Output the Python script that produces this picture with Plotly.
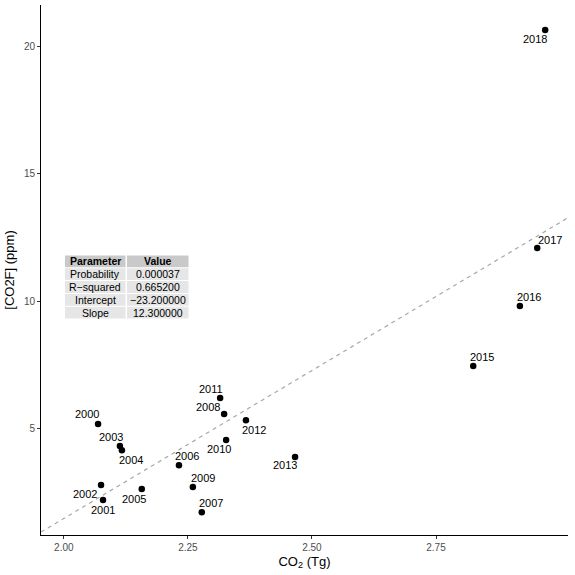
import plotly.graph_objects as go

# datos
years = ['2000', '2001', '2002', '2003', '2004', '2005', '2006', '2007', '2008',
         '2009', '2010', '2011', '2012', '2013', '2015', '2016', '2017', '2018']
co2 = [2.069, 2.079, 2.075, 2.113, 2.117, 2.157, 2.232, 2.278, 2.323,
       2.260, 2.327, 2.315, 2.367, 2.466, 2.825, 2.919, 2.954, 2.970]
co2f = [5.16, 2.17, 2.76, 4.29, 4.13, 2.60, 3.54, 1.69, 5.55,
        2.68, 4.53, 6.18, 5.31, 3.86, 7.44, 9.80, 12.09, 20.67]

params = ['Probability', 'R\u2212squared', 'Intercept', 'Slope']
values = ['0.000037', '0.665200', '\u221223.200000', '12.300000']
# recta discontinua tal como se ve en la figura
line_intercept = -21.86
line_slope = 11.65

# desplazamiento de cada etiqueta (px) respecto al punto
shifts = {'2000': (-11, 10), '2001': (0, -10), '2002': (-16, -9), '2003': (-9, 9),
          '2004': (9, -10), '2005': (-8, -10), '2006': (8, 9), '2007': (9, 9),
          '2008': (-16, 7), '2009': (10, 9), '2010': (-7, -9), '2011': (-9, 9),
          '2012': (8, -10), '2013': (-10, -8), '2015': (9, 9), '2016': (9, 9),
          '2017': (13, 8), '2018': (-10, -9)}

L, R, T, B = 41, 7, 5, 40
W = H = 575
pw, ph = W - L - R, H - T - B

def px(p):
    return (p - L) / pw

def py(p):
    return (H - B - p) / ph

xr = [1.954, 3.016]
fig = go.Figure()
fig.add_trace(go.Scatter(x=xr, y=[line_intercept + line_slope * v for v in xr], mode='lines',
                         line=dict(color='#a8a8a8', width=1.2, dash='4px,4px'),
                         hoverinfo='skip', showlegend=False))
fig.add_trace(go.Scatter(x=co2, y=co2f, mode='markers', marker=dict(color='black', size=6.5),
                         showlegend=False))
for yr, a, b in zip(years, co2, co2f):
    dx, dy = shifts[yr]
    fig.add_annotation(x=a, y=b, text=yr, showarrow=False, xshift=dx, yshift=dy,
                       font=dict(size=11, color='black'))

# tabla dibujada con rectangulos y textos
col_x = [(65, 125.5), (127, 188.5)]
top, rh = 255, 12.8
rows = [['<b>Parameter</b>', '<b>Value</b>']] + [[p, v] for p, v in zip(params, values)]
for i, row in enumerate(rows):
    y0 = top + i * rh
    fill = '#c9c9c9' if i == 0 else '#e6e6e6'
    for (a, b), txt in zip(col_x, row):
        fig.add_shape(type='rect', xref='paper', yref='paper', x0=px(a), x1=px(b),
                      y0=py(y0 + 0.5), y1=py(y0 + rh - 0.5), fillcolor=fill, line_width=0, layer='below')
        fig.add_annotation(xref='paper', yref='paper', x=px((a + b) / 2), y=py(y0 + rh / 2),
                           text=txt, showarrow=False, font=dict(size=10.5, color='black'),
                           xanchor='center', yanchor='middle')

fig.update_layout(
    width=W, height=H, plot_bgcolor='white', paper_bgcolor='white',
    margin=dict(l=L, r=R, t=T, b=B),
    font=dict(family='Liberation Sans, Arial, sans-serif'),
    xaxis=dict(range=xr, tickvals=[2.0, 2.25, 2.5, 2.75], ticktext=['2.00', '2.25', '2.50', '2.75'],
               showgrid=False, zeroline=False, showline=True, linecolor='black', linewidth=1,
               ticks='outside', ticklen=3, tickcolor='#333333', tickfont=dict(size=10, color='#4d4d4d'),
               title=dict(text='CO<sub>2</sub> (Tg)', font=dict(size=13, color='black'), standoff=4)),
    yaxis=dict(range=[0.79, 21.65], tickvals=[5, 10, 15, 20],
               showgrid=False, zeroline=False, showline=True, linecolor='black', linewidth=1,
               ticks='outside', ticklen=3, tickcolor='#333333', tickfont=dict(size=10, color='#4d4d4d'),
               title=dict(text='[CO2F] (ppm)', font=dict(size=13, color='black'), standoff=6)),
)
fig.write_html('out.html', config={'displayModeBar': False},
               post_script="document.body.style.margin='0px';")
